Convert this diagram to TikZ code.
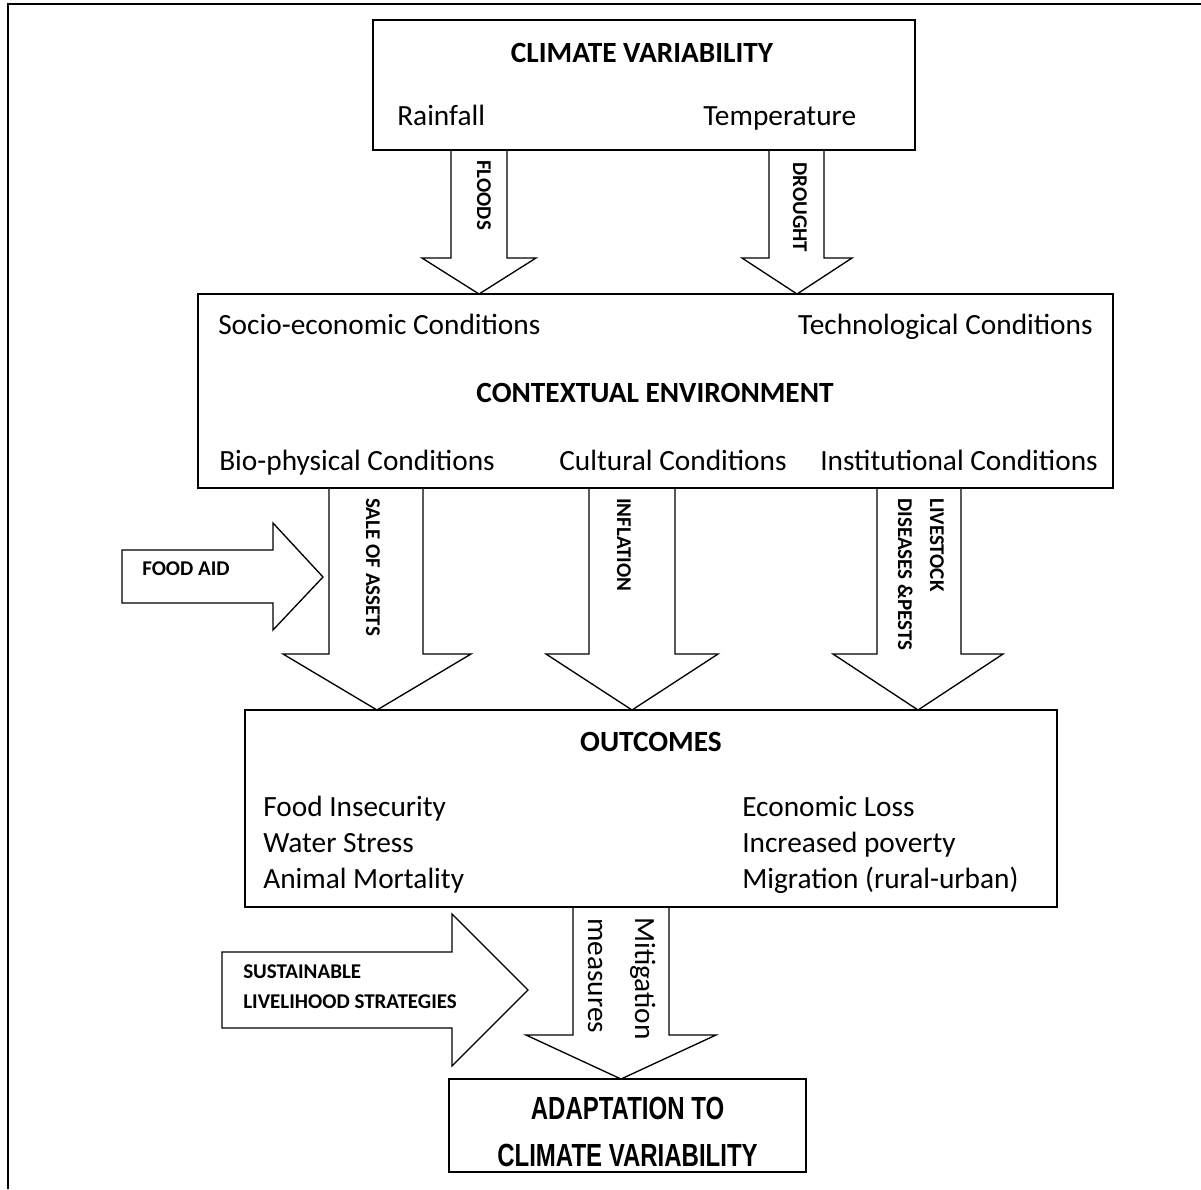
\documentclass[tikz,border=0pt]{standalone}
\usepackage{fontspec}
\setmainfont{Carlito}
\newfontfamily\narrowfont[FakeStretch=0.75]{Liberation Sans}
\usetikzlibrary{fit,calc}
\newcommand\dnarrow[7]{% shaftL shaftR topY headY halfwing tipX tipY
  \draw[barrow] (#1,#3) -- (#1,#4) -- ({#6-#5},#4) -- (#6,#7) -- ({#6+#5},#4) -- (#2,#4) -- (#2,#3);}
\begin{document}
\begin{tikzpicture}[x=0.75pt,y=-0.75pt,
  box/.style={draw, line width=1pt, inner sep=0pt},
  barrow/.style={draw, fill=white, line width=1pt, line join=miter},
  txt/.style={font=\fontsize{22}{26}\selectfont, inner sep=0pt, anchor=base west},
  titletxt/.style={font=\fontsize{22}{26}\selectfont\bfseries, inner sep=0pt, anchor=base},
  vlab/.style={font=\fontsize{15.75}{19}\selectfont\bfseries, inner sep=0pt, rotate=-90, anchor=base west},
  vtxt/.style={font=\fontsize{22}{26}\selectfont, inner sep=0pt, rotate=-90, anchor=base west},
  hlab/.style={font=\fontsize{15.75}{19}\selectfont\bfseries, inner sep=0pt, anchor=base west}]
\useasboundingbox (0,0) rectangle (1201,1189);
% page frame
\draw[line width=1.1pt] (8,1189) -- (8,4) -- (1201,4);

% block arrows (drawn first, boxes on top)
\dnarrow{451}{507}{150}{258}{57}{479}{294}
\dnarrow{769}{824}{150}{258}{55}{797}{294}
\dnarrow{329}{423}{488}{654}{94}{377}{710}
\dnarrow{589}{675}{488}{654}{86}{632}{710}
\dnarrow{877}{961}{488}{654}{85}{918}{710}
\dnarrow{573}{669}{907}{1035}{95}{621}{1079}
% food aid arrow
\draw[barrow] (122,550) -- (273,550) -- (273,523) -- (323,577) -- (273,630) -- (273,603) -- (122,603) -- cycle;
% sustainable livelihood arrow
\draw[barrow] (222,952) -- (452,952) -- (452,914) -- (528,990) -- (452,1066) -- (452,1028) -- (222,1028) -- cycle;

% boxes
\node[box, fit={(373,20) (915,150)}] (climate) {};
\node[box, fit={(198,294) (1113,488)}] (context) {};
\node[box, fit={(245,710) (1057,907)}] (outcomes) {};
\node[box, fit={(449,1079) (806,1172)}] (adapt) {};

% climate variability box
\node[titletxt] (cvt) at (642,62) {CLIMATE VARIABILITY};
\node[txt] (rain) at (397,125) {Rainfall};
\node[txt] (temp) at (703,125) {Temperature};

% contextual environment box
\node[txt] (socio) at (218,334) {Socio-economic Conditions};
\node[txt, anchor=base east] (techno) at (1093,334) {Technological Conditions};
\node[titletxt] (cet) at (655,402) {CONTEXTUAL ENVIRONMENT};
\node[txt] (bio) at (219,470) {Bio-physical Conditions};
\node[txt] (cult) at (559,470) {Cultural Conditions};
\node[txt] (inst) at (820,470) {Institutional Conditions};

% outcomes box
\node[titletxt] (out) at (651,751) {OUTCOMES};
\node[txt] (o1) at (263,816) {Food Insecurity};
\node[txt] (o2) at (263,852) {Water Stress};
\node[txt] (o3) at (263,888) {Animal Mortality};
\node[txt] (o4) at (742,816) {Economic Loss};
\node[txt] (o5) at (742,852) {Increased poverty};
\node[txt] (o6) at (742,888) {Migration (rural-urban)};

% adaptation box
\node[inner sep=0pt, align=center, font=\narrowfont\bfseries\fontsize{24}{35}\selectfont] (adt) at (627.5,1132) {ADAPTATION TO\\CLIMATE VARIABILITY};

% arrow labels
\node[vlab] (lfl) at (477,160) {FLOODS};
\node[vlab] (ldr) at (793,162) {DROUGHT};
\node[vlab] (lsa) at (366,498) {SALE OF ASSETS};
\node[vlab] (lin) at (617,498) {INFLATION};
\node[vlab] (lli) at (930,498) {LIVESTOCK};
\node[vlab] (ldi) at (898,498) {DISEASES \&PESTS};
\node[vtxt] (lmi) at (635,917) {Mitigation};
\node[vtxt] (lme) at (588,918) {measures};
\node[hlab] (lfa) at (142,575) {FOOD AID};
\node[hlab] (lsu) at (243,978) {SUSTAINABLE};
\node[hlab] (lst) at (243,1008) {LIVELIHOOD STRATEGIES};
\end{tikzpicture}
\end{document}
